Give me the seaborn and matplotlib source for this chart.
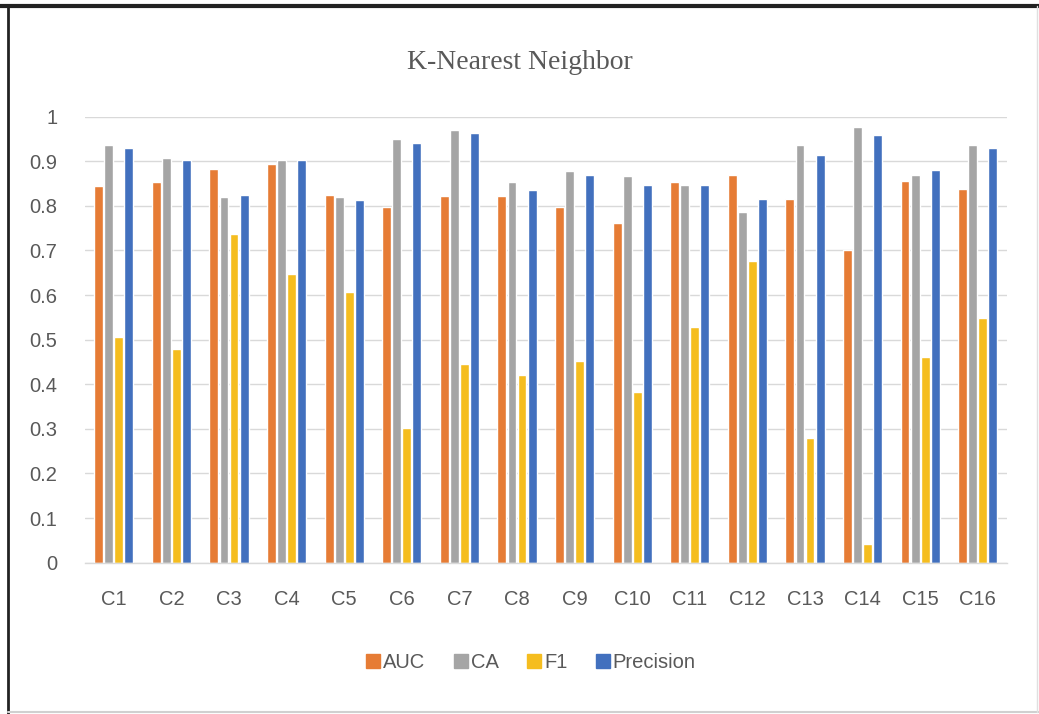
import matplotlib
matplotlib.use("Agg")
import matplotlib.pyplot as plt
from matplotlib.lines import Line2D
import seaborn as sns
import pandas as pd

categories = ["C1", "C2", "C3", "C4", "C5", "C6", "C7", "C8",
              "C9", "C10", "C11", "C12", "C13", "C14", "C15", "C16"]
auc = [0.845, 0.854, 0.882, 0.894, 0.824, 0.798, 0.822, 0.822,
       0.798, 0.761, 0.854, 0.869, 0.815, 0.701, 0.856, 0.837]
ca = [0.936, 0.907, 0.819, 0.903, 0.819, 0.951, 0.969, 0.854,
      0.879, 0.867, 0.847, 0.787, 0.936, 0.976, 0.869, 0.936]
f1 = [0.507, 0.478, 0.738, 0.648, 0.608, 0.303, 0.445, 0.421,
      0.453, 0.383, 0.528, 0.676, 0.279, 0.043, 0.462, 0.548]
precision = [0.929, 0.903, 0.824, 0.903, 0.813, 0.940, 0.963, 0.836,
             0.869, 0.847, 0.847, 0.815, 0.914, 0.959, 0.880, 0.930]
metrics = ["AUC", "CA", "F1", "Precision"]
colors = ["#E67C35", "#A5A5A5", "#F5BD1F", "#4270BE"]
yticks = [0, 0.1, 0.2, 0.3, 0.4, 0.5, 0.6, 0.7, 0.8, 0.9, 1]
ytick_labels = ["0", "0.1", "0.2", "0.3", "0.4", "0.5", "0.6", "0.7",
                "0.8", "0.9", "1"]

df = pd.DataFrame({"cat": categories, "AUC": auc, "CA": ca,
                   "F1": f1, "Precision": precision})
long = df.melt(id_vars="cat", value_vars=metrics,
               var_name="metric", value_name="score")

sns.set_theme(style="white")
plt.rcParams["font.family"] = ["Liberation Sans", "DejaVu Sans"]

fig = plt.figure(figsize=(10.39, 7.14), dpi=100)
ax = fig.add_axes([0.0818, 0.2119, 0.887, 0.6247])

sns.barplot(data=long, x="cat", y="score", hue="metric",
            order=categories, hue_order=metrics,
            palette=colors, width=0.7, gap=0.12, ax=ax,
            legend=False, saturation=1)

ax.set_ylim(0, 1)
ax.set_xlim(-0.5, len(categories) - 0.5)
ax.set_yticks(yticks)
ax.set_yticklabels(ytick_labels)
ax.yaxis.grid(True, color="#D9D9D9", linewidth=1)
ax.set_axisbelow(True)
for s in ["top", "right", "left"]:
    ax.spines[s].set_visible(False)
ax.spines["bottom"].set_color("#D9D9D9")
ax.spines["bottom"].set_linewidth(1)
ax.set_xlabel("")
ax.set_ylabel("")
ax.tick_params(axis="both", length=0, labelsize=14.5, colors="#595959")
ax.tick_params(axis="x", pad=20)
ax.tick_params(axis="y", pad=20)

fig.text(0.5, 0.913, "K-Nearest Neighbor", ha="center", va="center",
         fontsize=20, color="#595959", family="Liberation Serif")

handles = [Line2D([], [], marker="s", linestyle="none", markersize=10,
                  markerfacecolor=c, markeredgecolor=c) for c in colors]
fig.legend(handles, metrics, loc="center", bbox_to_anchor=(0.51, 0.072),
           ncol=4, frameon=False, fontsize=14.5, labelcolor="#595959",
           handletextpad=0.05, columnspacing=1.3, handlelength=0.9)

# page frame around the chart
fig.add_artist(Line2D([0, 1], [1 - 6 / 714, 1 - 6 / 714],
                      transform=fig.transFigure, color="#222222", linewidth=3))
fig.add_artist(Line2D([8 / 1039, 8 / 1039], [0, 1 - 6 / 714],
                      transform=fig.transFigure, color="#222222", linewidth=2))
fig.add_artist(Line2D([8 / 1039, 1], [2 / 714, 2 / 714],
                      transform=fig.transFigure, color="#D0D0D0", linewidth=1.5))
fig.add_artist(Line2D([1037 / 1039, 1037 / 1039], [2 / 714, 1 - 6 / 714],
                      transform=fig.transFigure, color="#E0E0E0", linewidth=1))

fig.savefig("out.png", dpi=100, facecolor="white")
